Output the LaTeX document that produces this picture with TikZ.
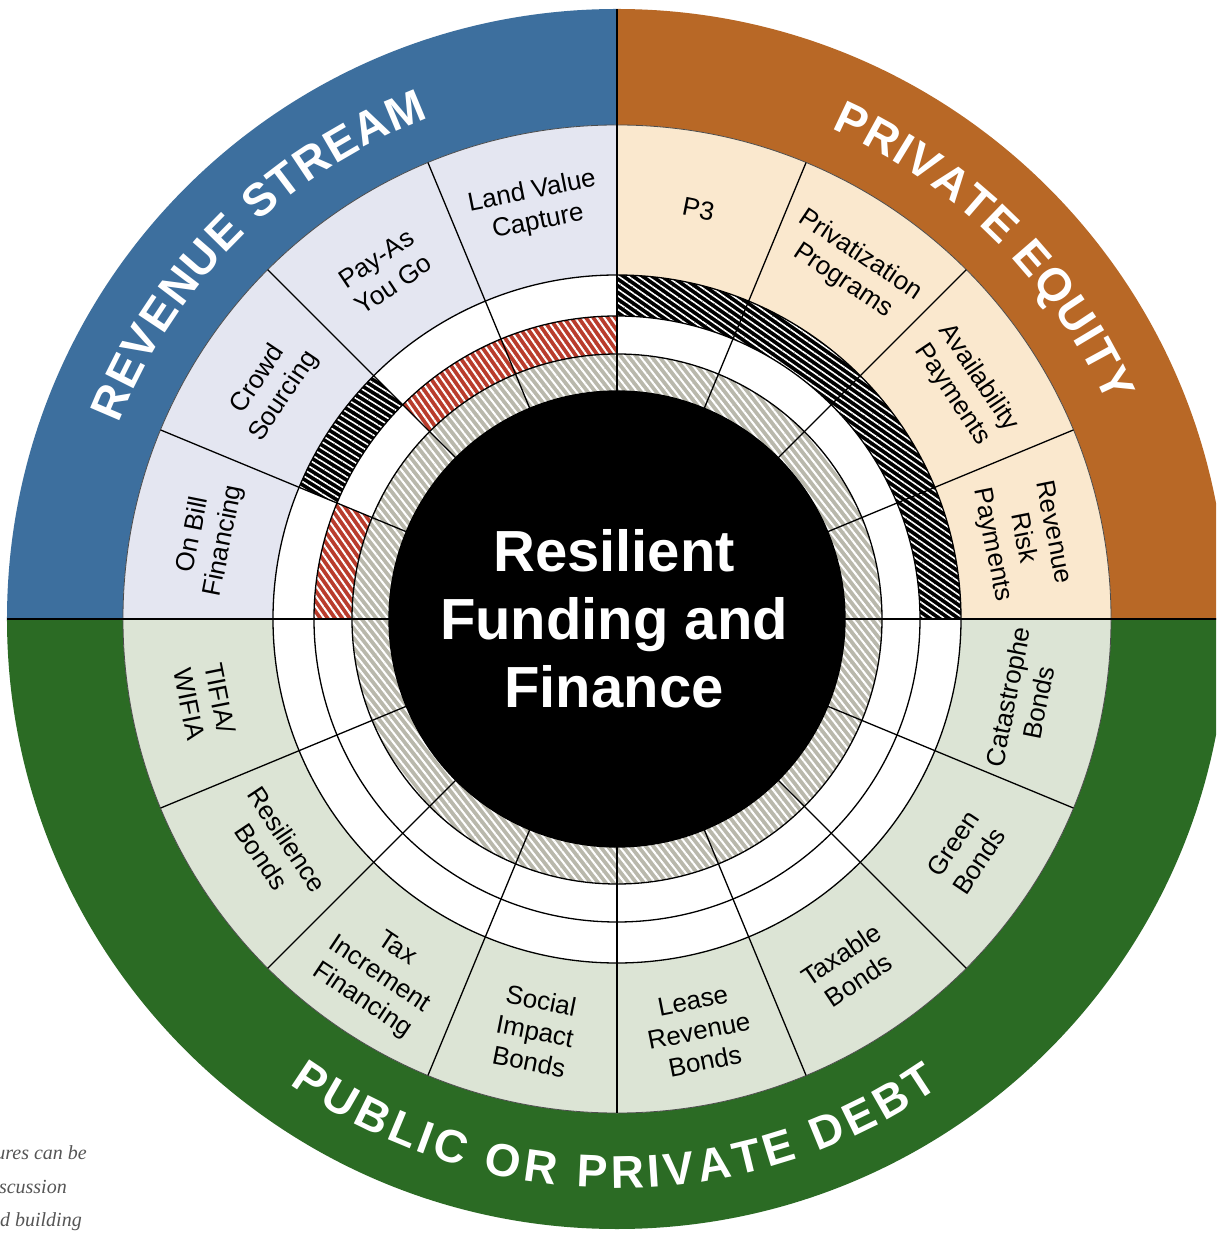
\documentclass[tikz,border=0pt]{standalone}
\usepackage{fontspec}
\setmainfont{Liberation Sans}
\setsansfont{Liberation Sans}
\newfontfamily\capserif{Liberation Serif}
\usetikzlibrary{patterns.meta}
\definecolor{bandblue}{HTML}{3D6F9E}
\definecolor{bandorange}{HTML}{B86826}
\definecolor{bandgreen}{HTML}{2B6B24}
\definecolor{lightlav}{HTML}{E4E6F1}
\definecolor{lightbeige}{HTML}{FAE8CE}
\definecolor{lightgreen}{HTML}{DCE4D5}
\definecolor{hatchred}{HTML}{B93C2C}
\definecolor{hatchgray}{HTML}{B9B8AC}
\definecolor{capgray}{HTML}{555555}

\def\bandsize{46}
\newcommand\bandfont{\bfseries\fontsize{46}{46}\selectfont}
\newcommand\annsec[4]{(#1:#3) arc[start angle=#1,end angle=#2,radius=#3] -- (#2:#4) arc[start angle=#2,end angle=#1,radius=#4] -- cycle}

% #1 name, #2 base r, #3 spacing r, #4 centre angle, #5 dir, #6 span of letter centres, #7 letter/width(em) list
\newcommand\arcletters[7]{%
  \gdef\aW{0}\gdef\aN{0}\gdef\aF{0}\gdef\aL{0}%
  \foreach \lx/\lwid in {#7}{%
    \pgfmathsetmacro\tmp{\lwid*\bandsize}%
    \ifnum\aN=0 \xdef\aF{\tmp}\fi
    \xdef\aL{\tmp}%
    \pgfmathsetmacro\tmp{\aW+\lwid*\bandsize}\xdef\aW{\tmp}%
    \pgfmathtruncatemacro\tmp{\aN+1}\xdef\aN{\tmp}%
  }%
  \pgfmathsetmacro\aD{#6*pi/180*#3}%
  \pgfmathsetmacro\aT{(\aD-(\aW-\aF/2-\aL/2))/(\aN-1)}%
  \gdef\aC{0}\gdef\aI{0}%
  \foreach \lx/\lwid in {#7}{%
    \pgfmathsetmacro\aS{\aC+\lwid*\bandsize/2+\aI*\aT-\aF/2}%
    \pgfmathsetmacro\aA{#4+(#5)*(\aD/2-\aS)/#3*180/pi}%
    \pgfmathsetmacro\aR{\aA-(#5)*90}%
    \node[bandletter,rotate=\aR] (#1\aI) at (\aA:#2) {\lx};
    \pgfmathsetmacro\tmp{\aC+\lwid*\bandsize}\xdef\aC{\tmp}%
    \pgfmathtruncatemacro\tmp{\aI+1}\xdef\aI{\tmp}%
  }%
}

\begin{document}
\begin{tikzpicture}[x=1pt,y=1pt,
  bandletter/.style={font=\bandfont,text=white,inner sep=0pt,anchor=base},
  seclabel/.style={font=\fontsize{26}{31}\selectfont,align=center,text=black,inner sep=0pt},
  secline/.style={line width=1.3pt,black},
  quadline/.style={line width=2pt,black},
  ringline/.style={line width=1.3pt,black},
  capnode/.style={font=\capserif\itshape\fontsize{20}{20}\selectfont,text=capgray,inner sep=0pt,anchor=base east}]
\useasboundingbox (-617,-614) rectangle (599,619);
\clip (-617,-614) rectangle (599,619);
\fill[white] (-617,-614) rectangle (599,619);

% outer band
\fill[bandorange] \annsec{0}{90}{494}{610};
\fill[bandblue] \annsec{90}{180}{494}{610};
\fill[bandgreen] \annsec{180}{360}{494}{610};
% label ring
\fill[lightbeige] \annsec{0}{90}{344}{494};
\fill[lightlav] \annsec{90}{180}{344}{494};
\fill[lightgreen] \annsec{180}{360}{344}{494};
% ring C
\fill[white] \annsec{0}{360}{303}{344};
\fill[black] \annsec{0}{90}{303}{344};
\fill[pattern={Lines[angle=-35,distance=5.5pt,line width=1.6pt]},pattern color=white] \annsec{0}{90}{303}{344};
\fill[black] \annsec{135}{157.5}{303}{344};
\fill[pattern={Lines[angle=-32,distance=5.5pt,line width=1.6pt]},pattern color=white] \annsec{135}{157.5}{303}{344};
% ring B
\fill[white] \annsec{0}{360}{265}{303};
\fill[hatchred] \annsec{90}{135}{265}{303};
\fill[hatchred] \annsec{157.5}{180}{265}{303};
\fill[pattern={Lines[angle=-55,distance=6pt,line width=2pt]},pattern color=white] \annsec{90}{135}{265}{303};
\fill[pattern={Lines[angle=-55,distance=6pt,line width=2pt]},pattern color=white] \annsec{157.5}{180}{265}{303};
% ring A
\fill[hatchgray] \annsec{0}{360}{228}{265};
\fill[pattern={Lines[angle=-52,distance=6pt,line width=2pt]},pattern color=white] \annsec{0}{360}{228}{265};
% centre disc
\fill[black] (0,0) circle[radius=228];

% ring lines
\draw[ringline] (0,0) circle[radius=228];
\draw[ringline] (0,0) circle[radius=265];
\draw[ringline] (0,0) circle[radius=303];
\draw[ringline] (0,0) circle[radius=344];
\draw[line width=0.8pt,black!70] (0,0) circle[radius=494];
\foreach \a in {22.5,45,67.5,112.5,135,157.5,202.5,225,247.5,270,292.5,315,337.5}
  \draw[secline] (\a:228) -- (\a:494);
\foreach \a in {0,90,180}
  \draw[quadline] (\a:228) -- (\a:610);

% centre text
\node[font=\bfseries\fontsize{58}{68}\selectfont,text=white,align=center,inner sep=0pt] (title) at (-3,0) {Resilient\\Funding and\\Finance};

% sector labels, top half (tops outward)
\node[seclabel,rotate=11.25] (lvc) at (101.25:420) {Land Value\\Capture};
\node[seclabel,rotate=33.75] (payg) at (123.75:418) {Pay-As\\You Go};
\node[seclabel,rotate=56.25] (crowd) at (146.25:416) {Crowd\\Sourcing};
\node[seclabel,rotate=78.75] (obf) at (168.75:416) {On Bill\\Financing};
\node[seclabel,rotate=-11.25] (p3) at (78.75:418) {P3};
\node[seclabel,rotate=-33.75] (priv) at (56.25:422) {Privatization\\Programs};
\node[seclabel,rotate=-56.25] (avail) at (33.75:419) {Availability\\Payments};
\node[seclabel,rotate=-78.75] (rrp) at (11.25:413) {Revenue\\Risk\\Payments};
% bottom half (tops inward)
\node[seclabel,rotate=78.75] (cat) at (-11.25:414) {Catastrophe\\Bonds};
\node[seclabel,rotate=56.25] (green) at (-33.75:420) {Green\\Bonds};
\node[seclabel,rotate=33.75] (taxable) at (-56.25:419) {Taxable\\Bonds};
\node[seclabel,rotate=11.25] (lease) at (-78.75:420) {Lease\\Revenue\\Bonds};
\node[seclabel,rotate=-11.25] (social) at (-101.25:420) {Social\\Impact\\Bonds};
\node[seclabel,rotate=-33.75] (tif) at (-123.75:428) {Tax\\Increment\\Financing};
\node[seclabel,rotate=-56.25] (resil) at (-146.25:412) {Resilience\\Bonds};
\node[seclabel,rotate=-78.75] (tifia) at (-168.75:420) {TIFIA/\\WIFIA};

% band titles
\arcletters{rs}{535}{552}{134.7}{1}{44.2}{R/0.722,E/0.667,V/0.667,E/0.667,N/0.722,U/0.722,E/0.667,~/0.278,S/0.667,T/0.611,R/0.722,E/0.667,A/0.722,M/0.833}
\arcletters{pe}{535}{552}{45}{1}{39.4}{P/0.667,R/0.722,I/0.278,V/0.667,A/0.722,T/0.611,E/0.667,~/0.278,E/0.667,Q/0.778,U/0.722,I/0.278,T/0.611,Y/0.667}
\arcletters{pd}{569}{552}{269.8}{-1}{66.8}{P/0.667,U/0.722,B/0.722,L/0.611,I/0.278,C/0.722,~/0.278,O/0.778,R/0.722,~/0.278,P/0.667,R/0.722,I/0.278,V/0.667,A/0.722,T/0.611,E/0.667,~/0.278,D/0.722,E/0.667,B/0.722,T/0.611}

% caption fragment
\node[capnode] (cap1) at (-530,-540) {ures can be};
\node[capnode] (cap2) at (-550,-574) {scussion};
\node[capnode] (cap3) at (-535,-607) {d building};
\end{tikzpicture}
\end{document}
